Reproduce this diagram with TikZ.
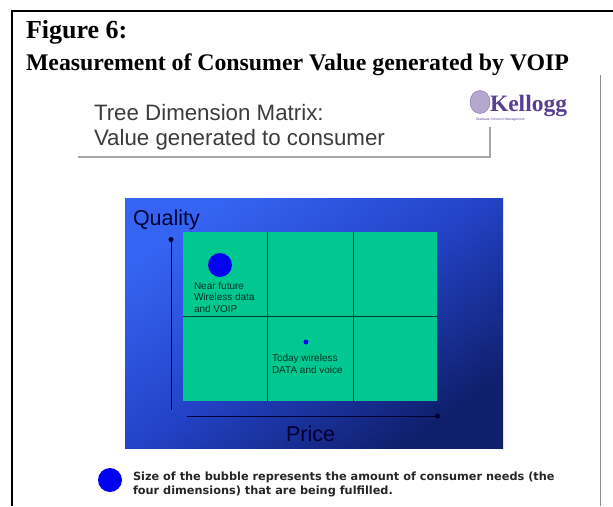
\documentclass[tikz,border=0pt]{standalone}
\usepackage{fontspec}
\setmainfont{Liberation Serif}
\newfontfamily\slidesans{Liberation Sans}
\newfontfamily\legendsans{DejaVu Sans}
\usetikzlibrary{arrows.meta,shapes.geometric}
\definecolor{gridgreen}{HTML}{00C890}
\definecolor{logopurple}{HTML}{5A3E92}
\definecolor{bubbleblue}{HTML}{0000F0}
\definecolor{titlegray}{HTML}{3C3C3C}
\definecolor{panelbright}{HTML}{3564F2}
\definecolor{panelmid}{HTML}{2342C6}
\definecolor{paneldark}{HTML}{0F1F6C}
\tikzset{
  txt/.style={inner sep=0pt,outer sep=0pt,anchor=base west,align=left},
  headline/.style={txt,font=\bfseries\fontsize{23.8}{24}\selectfont,text=black},
  bighead/.style={txt,font=\bfseries\fontsize{26}{26}\selectfont,text=black},
  slidetitle/.style={txt,font=\slidesans\fontsize{22.3}{22}\selectfont,text=titlegray},
  axislabel/.style={txt,font=\slidesans\fontsize{21.5}{21}\selectfont,text=black!80!blue},
  smalllabel/.style={txt,font=\slidesans\fontsize{10}{11.5}\selectfont,text=black!75!gridgreen},
  legendtext/.style={txt,font=\legendsans\bfseries\fontsize{11.3}{14.5}\selectfont,text=black!85},
  bubble/.style={circle,fill=bubbleblue,draw=none,inner sep=0pt,outer sep=0pt},
  gridline/.style={draw=black!70!gridgreen,line width=0.7pt},
  axisline/.style={draw=black!80!blue,line width=0.7pt,{Circle[length=5pt]}-},
  frameline/.style={draw=black,line width=2pt},
  shadowline/.style={draw=black!35,line width=1.2pt},
}
\begin{document}
\begin{tikzpicture}[x=1pt,y=-1pt]
\useasboundingbox (0,0) rectangle (613,506);
\fill[white] (0,0) rectangle (613,506);
% frame
\coordinate (fa) at (11.5,506);
\coordinate (fb) at (11.5,10.5);
\coordinate (fc) at (613,10.5);
\draw[frameline] (fa) -- (fb) -- (fc);
\coordinate (ga) at (600,75);
\coordinate (gb) at (600,506);
\draw[draw=black!45,line width=1pt] (ga) -- (gb);
% headline
\node[bighead] (fig) at (26,38) {Figure 6:};
\node[headline] (meas) at (26,70) {Measurement of Consumer Value generated by VOIP};
% slide title
\node[slidetitle] (t1) at (94,120) {Tree Dimension Matrix:};
\node[slidetitle] (t2) at (94,145) {Value generated to consumer};
\coordinate (sa) at (78,157);
\coordinate (sb) at (490,157);
\coordinate (sc) at (490,127);
\draw[shadowline] (sa) -- (sb) -- (sc);
% logo
\node[ellipse,fill=logopurple!45,draw=logopurple!70,line width=.5pt,minimum width=20pt,minimum height=23pt,inner sep=0pt] (seal) at (480,102) {};
\node[txt,font=\bfseries\fontsize{23.5}{24}\selectfont,text=logopurple] (kel) at (490,111) {Kellogg};
\node[txt,font=\slidesans\fontsize{3.3}{3.3}\selectfont,text=logopurple] (sub) at (476,120) {Graduate School of Management};
% slide panel
\shade[shading=axis,top color=panelbright,bottom color=paneldark,middle color=panelmid,shading angle=35] (125,198) rectangle (503,448);
\fill[gridgreen] (183,232) rectangle (437,401);
\coordinate (v1a) at (267,232); \coordinate (v1b) at (267,401);
\coordinate (v2a) at (353,232); \coordinate (v2b) at (353,401);
\coordinate (ha) at (183,316);  \coordinate (hb) at (437,316);
\draw[gridline] (v1a) -- (v1b);
\draw[gridline] (v2a) -- (v2b);
\draw[gridline] (ha) -- (hb);
\coordinate (yt) at (171,237); \coordinate (yb) at (171,410);
\coordinate (xr) at (440,416); \coordinate (xl) at (187,416);
\draw[axisline] (yt) -- (yb);
\draw[axisline] (xr) -- (xl);
\node[axislabel] (q) at (133,225) {Quality};
\node[axislabel] (p) at (286,441) {Price};
\node[bubble,minimum size=24pt] (b1) at (220,265) {};
\node[bubble,minimum size=5pt] (b2) at (306,342) {};
\node[smalllabel] (l1) at (194,312) {Near future\\Wireless data\\and VOIP};
\node[smalllabel] (l2) at (272,373) {Today wireless\\DATA and voice};
% legend
\node[bubble,minimum size=24pt] (b3) at (110,480) {};
\node[legendtext] (leg) at (133,494.5) {Size of the bubble represents the amount of consumer needs (the\\four dimensions) that are being fulfilled.};
\end{tikzpicture}
\end{document}
